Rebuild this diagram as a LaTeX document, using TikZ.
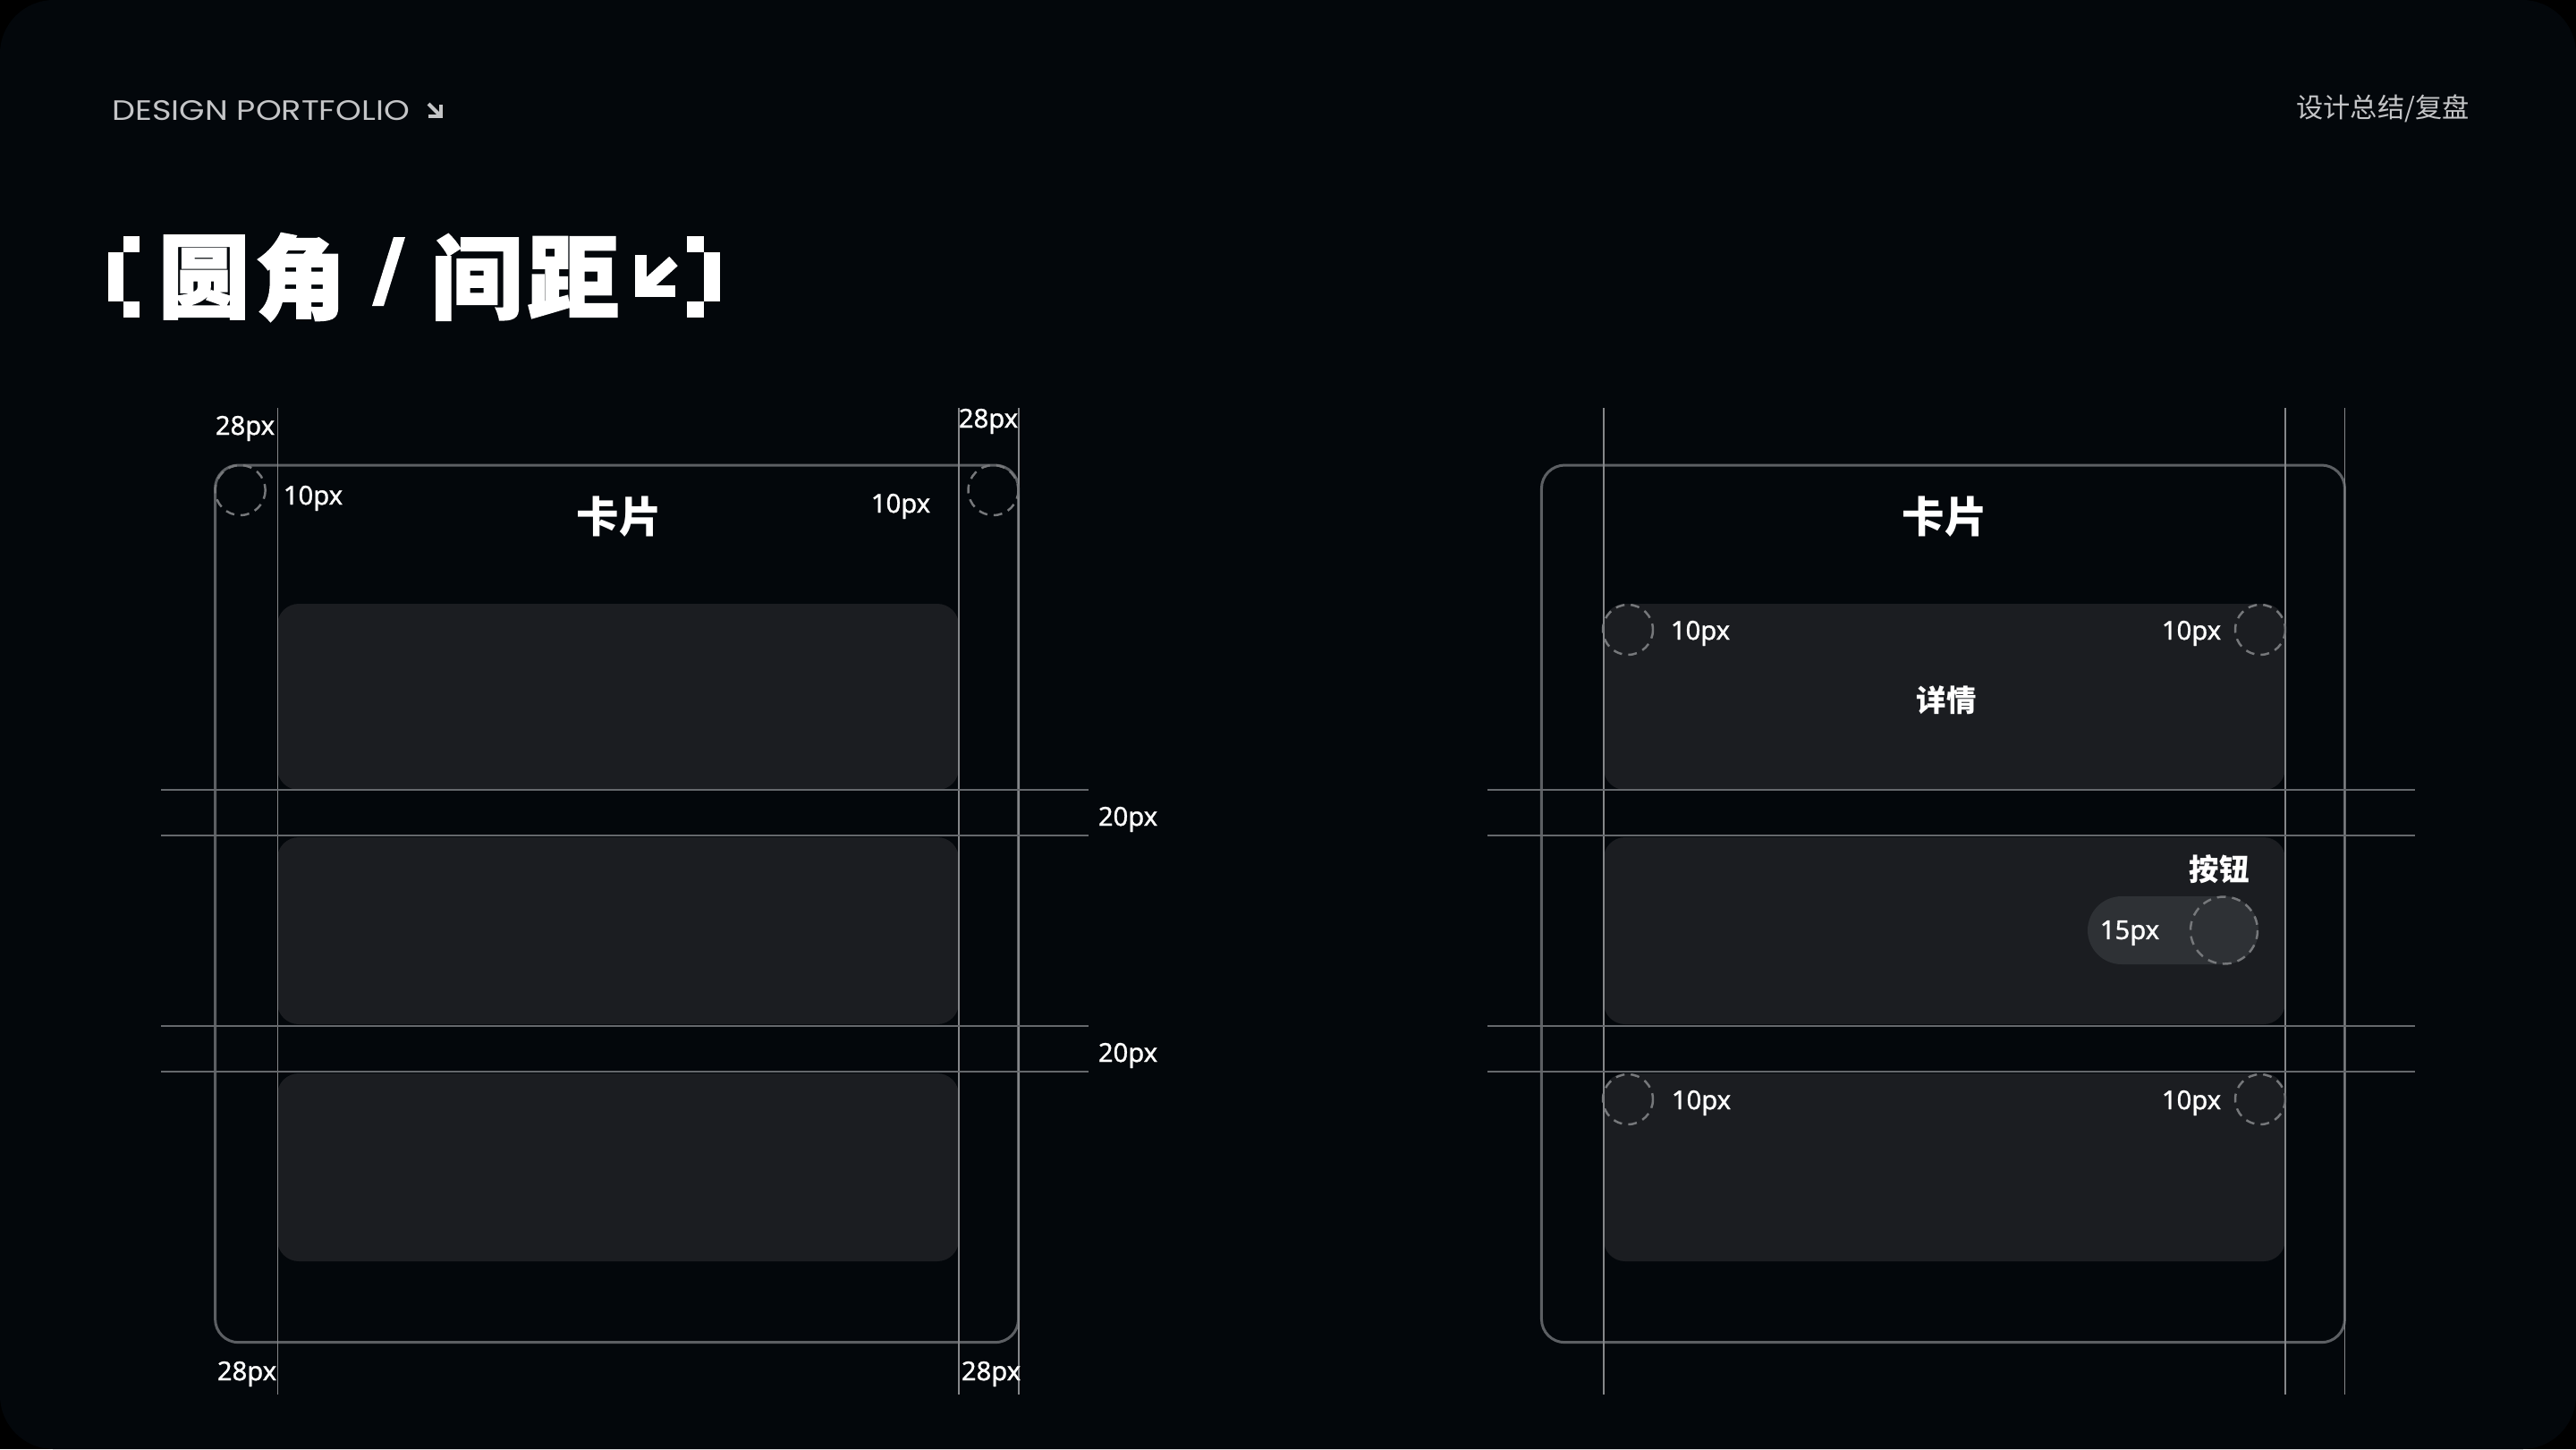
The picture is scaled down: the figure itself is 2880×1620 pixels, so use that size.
\documentclass[tikz,border=0pt]{standalone}
\usepackage{fontspec}
\setmainfont{Noto Sans}
\newfontfamily\labfont[FakeBold=1]{Noto Sans}
\newfontfamily\cjk{Noto Sans CJK SC}
\newfontfamily\cjkheavy[FakeBold=2]{Noto Sans CJK SC}
\newfontfamily\pop{Poppins}
\definecolor{bgc}{HTML}{03070B}
\definecolor{cardc}{HTML}{1B1D21}
\definecolor{pillc}{HTML}{2E3135}
\definecolor{outlinec}{HTML}{5C5F63}
\definecolor{guidev}{HTML}{85878A}
\definecolor{guideh}{HTML}{65686C}
\definecolor{dashc}{HTML}{76787B}
\definecolor{headc}{HTML}{C4C5C7}
\begin{document}
\begin{tikzpicture}[x=0.01cm,y=-0.01cm,
  innercard/.style={fill=cardc, rounded corners=0.24cm},
  outercard/.style={draw=outlinec, line width=0.85pt, rounded corners=0.26cm},
  vguide/.style={draw=guidev, line width=0.55pt},
  hguide/.style={draw=guideh, line width=0.8pt},
  cornermark/.style={draw=dashc, line width=0.7pt, dash pattern=on 2.8pt off 2pt},
  pxlabel/.style={text=white, inner sep=0pt, font=\labfont\fontsize{8.3}{10}\selectfont},
  cardtitle/.style={text=white, inner sep=0pt, font=\cjk\bfseries\fontsize{13.5}{16}\selectfont},
  subtitle/.style={text=white, inner sep=0pt, font=\cjk\bfseries\fontsize{9.5}{11}\selectfont},
  titlechar/.style={text=white, inner sep=0pt, font=\cjkheavy\bfseries\fontsize{29}{30}\selectfont},
  pixel/.style={fill=white}]
\useasboundingbox (0,0) rectangle (2880,1620);
\fill[black] (0,0) rectangle (2880,1620);
\fill[bgc, rounded corners=0.6cm] (0,0) rectangle (2880,1620);

% header
\node[anchor=west, inner sep=0pt, text=headc, font=\pop\fontsize{8.9}{10}\selectfont] (brand) at (125,124) {\scalebox{1.17}[1]{DESIGN PORTFOLIO}};
\draw[headc, line width=1.2pt] (479,116) -- (493,130);
\draw[headc, line width=1.2pt] (493,117) -- (493,130) -- (479,130);
\node[inner sep=0pt, text=headc, font=\cjk\fontsize{8.6}{10}\selectfont] (section) at (2664,121) {设计总结/复盘};

% title
\fill[pixel] (138,264) rectangle (156,282);
\fill[pixel] (120.7,282) rectangle (138.3,337);
\fill[pixel] (138,337) rectangle (156,355);
\node[titlechar] (t1) at (228,310) {圆};
\node[titlechar] (t2) at (336,310) {角};
\fill[white] (416,342) -- (429,342) -- (453,265) -- (440,265) -- cycle;
\node[titlechar] (t3) at (533,310) {间};
\node[titlechar] (t4) at (641,310) {距};
\draw[white, line width=3.8pt] (716.5,285) -- (716.5,325.5) -- (755,325.5);
\draw[white, line width=4pt] (722,320) -- (753,292);
\fill[pixel] (768,264) rectangle (787,282);
\fill[pixel] (787,282) rectangle (805,337);
\fill[pixel] (768,337) rectangle (787,355);

% shared panel geometry
\foreach \dx in {0,14.82} {
\begin{scope}[xshift=\dx cm]
  \fill[innercard] (310,675) rectangle (1072,883);
  \fill[innercard] (310,936) rectangle (1072,1145);
  \fill[innercard] (310,1200) rectangle (1072,1410);
  \draw[outercard] (240.6,520) rectangle (1138.6,1500.7);
  \draw[vguide] (310.5,456) -- (310.5,1559);
  \draw[vguide] (1072,456) -- (1072,1559);
  \draw[vguide] (1138.6,456) -- (1138.6,1559);
  \draw[hguide] (180,883) -- (1217,883);
  \draw[hguide] (180,934) -- (1217,934);
  \draw[hguide] (180,1147) -- (1217,1147);
  \draw[hguide] (180,1198) -- (1217,1198);
\end{scope}
}

% left panel
\draw[cornermark] (268.6,548) circle [radius=28];
\draw[cornermark] (1110.5,548) circle [radius=28];
\node[pxlabel] (l28tl) at (274,479) {28px};
\node[pxlabel] (l28tr) at (1105,471) {28px};
\node[pxlabel] (l10l) at (350,557) {10px};
\node[pxlabel] (l10r) at (1007,566) {10px};
\node[cardtitle] (lcard) at (692,578) {卡片};
\node[pxlabel] (l20a) at (1261,916) {20px};
\node[pxlabel] (l20b) at (1261,1180) {20px};
\node[pxlabel] (l28bl) at (276,1536) {28px};
\node[pxlabel] (l28br) at (1108,1536) {28px};

% right panel
\fill[pillc, rounded corners=0.38cm] (2334,1002) rectangle (2525,1078);
\draw[cornermark] (2486.5,1040) circle [radius=37.5];
\draw[cornermark] (1820,704) circle [radius=28];
\draw[cornermark] (2527,704) circle [radius=28];
\draw[cornermark] (1820,1229) circle [radius=28];
\draw[cornermark] (2527,1229) circle [radius=28];
\node[cardtitle] (rcard) at (2174,578) {卡片};
\node[pxlabel] (r10a) at (1901,708) {10px};
\node[pxlabel] (r10b) at (2450,708) {10px};
\node[subtitle] (rdetail) at (2176,783) {详情};
\node[subtitle] (rbtn) at (2481,972) {按钮};
\node[pxlabel] (r15) at (2381,1043) {15px};
\node[pxlabel] (r10c) at (1902,1233) {10px};
\node[pxlabel] (r10d) at (2450,1233) {10px};
\end{tikzpicture}
\end{document}
